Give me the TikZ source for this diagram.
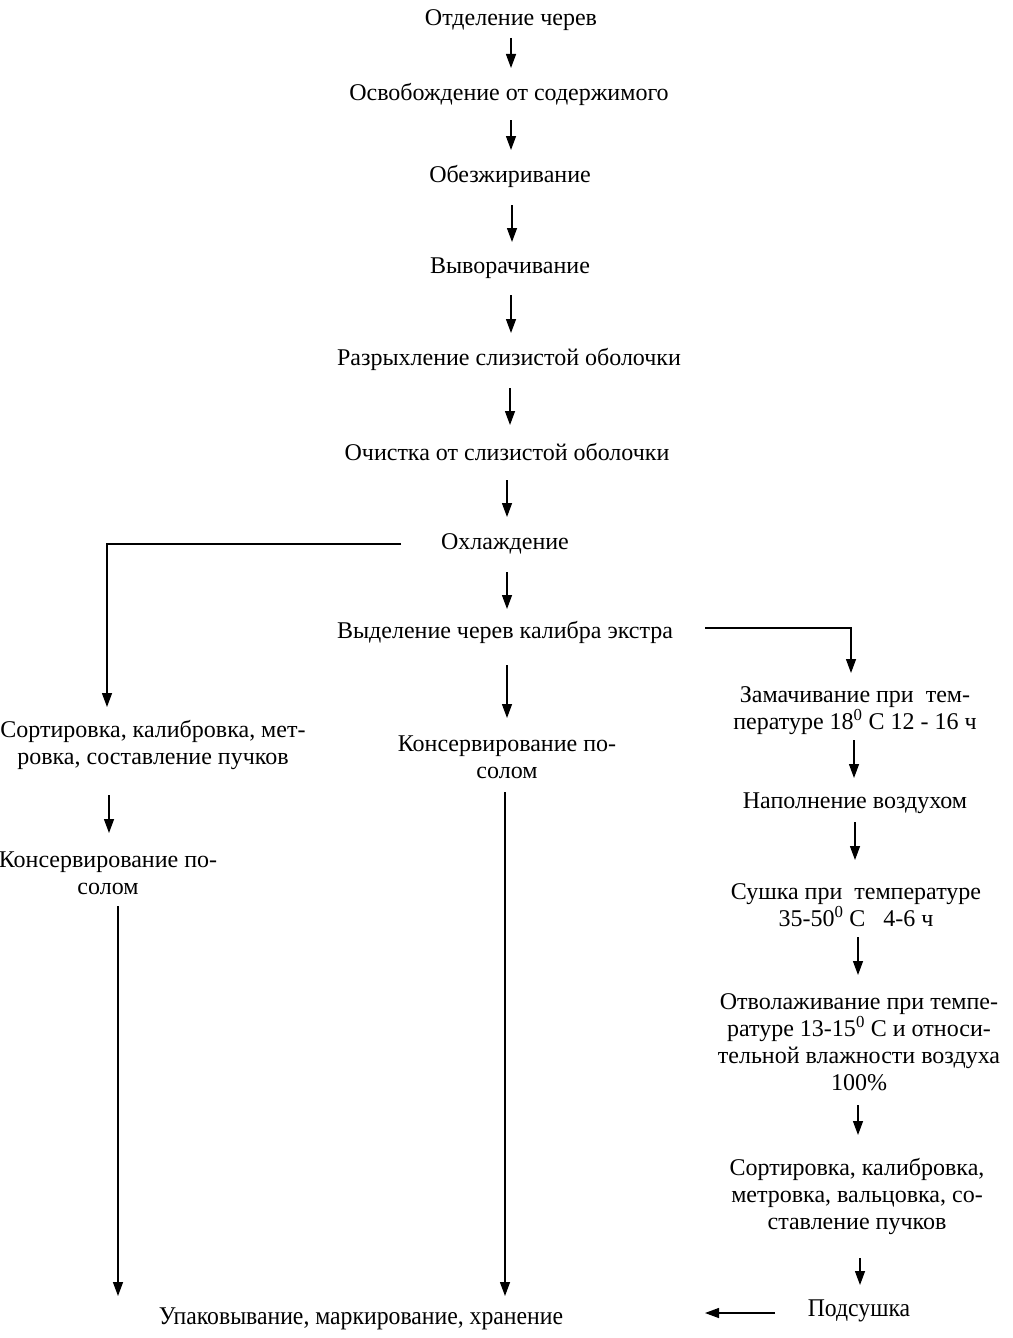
\documentclass[tikz,border=0pt]{standalone}
\usepackage{fontspec}
\setmainfont{Liberation Serif}
\newfontfamily\condfont{Liberation Serif}[FakeStretch=0.93]
\usetikzlibrary{arrows.meta}
\begin{document}
\begin{tikzpicture}[x=1pt,y=-1pt,
  lbl/.style={inner sep=0pt,align=center,font=\fontsize{24}{27}\selectfont},
  cond/.style={inner sep=0pt,align=center,font=\condfont\fontsize{25.5}{28}\selectfont},
  arr/.style={line width=1.3pt,-{Triangle[length=14pt,width=10pt]}},
  ln/.style={line width=1.3pt}]
\useasboundingbox (0,0) rectangle (1012,1338);
% main column
\node[lbl] (n1) at (511,20) {Отделение черев};
\node[lbl] (n2) at (509,94) {Освобождение от содержимого};
\node[lbl] (n3) at (510,176) {Обезжиривание};
\node[lbl] (n4) at (510,268) {Выворачивание};
\node[lbl] (n5) at (509,359) {Разрыхление слизистой оболочки};
\node[lbl] (n6) at (507,452) {Очистка от слизистой оболочки};
\node[lbl] (n7) at (505,544) {Охлаждение};
\node[lbl] (n8) at (505,632) {Выделение черев калибра экстра};
\node[lbl] (c1) at (507,757) {Консервирование по-\\солом};
% left column
\node[lbl] (l1) at (153,745) {Сортировка, калибровка, мет-\\ровка, составление пучков};
\node[lbl] (l2) at (108,873) {Консервирование по-\\солом};
% right column
\node[lbl] (r1) at (855,711) {Замачивание при\ \ тем-\\пературе 18\textsuperscript{0} С 12 - 16 ч};
\node[lbl] (r2) at (855,803) {Наполнение воздухом};
\node[lbl] (r3) at (856,905) {Сушка при\ \ температуре\\35-50\textsuperscript{0} С\ \ \ 4-6 ч};
\node[lbl] (r4) at (859,1042) {Отволаживание при темпе-\\ратуре 13-15\textsuperscript{0} С и относи-\\тельной влажности воздуха\\100\%};
\node[lbl] (r5) at (857,1196) {Сортировка, калибровка,\\метровка, вальцовка, со-\\ставление пучков};
\node[cond] (r6) at (859,1311) {Подсушка};
% bottom
\node[cond] (b) at (361,1319) {Упаковывание, маркирование, хранение};
% coordinates
\coordinate (t1) at (107,544);
\coordinate (t2) at (851,628);
% arrows main
\draw[arr] (511,38) -- (511,68);
\draw[arr] (511,120) -- (511,150);
\draw[arr] (512,205) -- (512,242);
\draw[arr] (511,295) -- (511,333);
\draw[arr] (510,388) -- (510,425);
\draw[arr] (507,480) -- (507,517);
\draw[arr] (507,572) -- (507,609);
\draw[arr] (507,665) -- (507,718);
\draw[arr] (505,792) -- (505,1296);
% branches
\draw[arr] (401,544) -- (t1) -- (107,707);
\draw[arr] (705,628) -- (t2) -- (851,673);
% left
\draw[arr] (109,795) -- (109,833);
\draw[arr] (118,906) -- (118,1296);
% right
\draw[arr] (854,740) -- (854,778);
\draw[arr] (855,822) -- (855,860);
\draw[arr] (858,937) -- (858,975);
\draw[arr] (858,1105) -- (858,1135);
\draw[arr] (860,1258) -- (860,1285);
\draw[arr] (775,1313) -- (705,1313);
\end{tikzpicture}
\end{document}
